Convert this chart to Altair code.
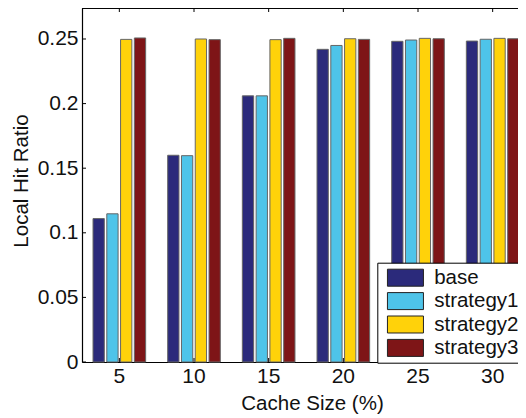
import altair as alt
import pandas as pd

sizes = ["5", "10", "15", "20", "25", "30"]
series = ["base", "strategy1", "strategy2", "strategy3"]
base = [0.111, 0.160, 0.206, 0.242, 0.2482, 0.2484]
strategy1 = [0.1147, 0.1597, 0.206, 0.245, 0.2492, 0.2498]
strategy2 = [0.2497, 0.2500, 0.2495, 0.2502, 0.2505, 0.2505]
strategy3 = [0.2508, 0.2495, 0.2505, 0.2497, 0.2502, 0.2502]
yticks = [0, 0.05, 0.1, 0.15, 0.2, 0.25]
colors = ["#2B2A7B", "#4EC4E9", "#FFD20A", "#7E1517"]

rows = []
for name, vals in zip(series, [base, strategy1, strategy2, strategy3]):
    for s, v in zip(sizes, vals):
        rows.append({"size": s, "series": name, "value": v})
df = pd.DataFrame(rows)

W = 436
H = 354
FONT = "Liberation Sans"
TXT = "#111111"
NB = "\u00a0" * 10

xscale = alt.Scale(domain=sizes, range=[0, 448], paddingInner=0, paddingOuter=0)
yscale = alt.Scale(domain=[0, 0.27399], nice=False, zero=True)

bars = alt.Chart(df).mark_bar(stroke="#666666", strokeWidth=1).encode(
    x=alt.X("size:N", scale=xscale, sort=sizes,
            axis=alt.Axis(title="Cache Size (%)", labelAngle=0, tickSize=0, labelPadding=3,
                          domainColor="black", domainWidth=1.2, grid=False,
                          labelFontSize=21, labelColor=TXT, labelFont=FONT,
                          titleFontSize=20.5, titleColor=TXT, titleFont=FONT, titleFontWeight="normal",
                          titleX=230, titleY=47, titleBaseline="alphabetic", titleAlign="center")),
    xOffset=alt.XOffset("series:N", sort=series, scale=alt.Scale(paddingInner=0.18, paddingOuter=0.8)),
    y=alt.Y("value:Q", scale=yscale,
            axis=alt.Axis(title="Local Hit Ratio", values=yticks, format="~g", tickSize=0, labelPadding=4,
                          grid=False, domainColor="black", domainWidth=1.2,
                          labelFontSize=21, labelColor=TXT, labelFont=FONT,
                          titleFontSize=20.5, titleColor=TXT, titleFont=FONT, titleFontWeight="normal",
                          titleX=-55, titleY=172.5, titleBaseline="alphabetic")),
    color=alt.Color("series:N", scale=alt.Scale(domain=series, range=colors),
                    legend=alt.Legend(title=None, orient="none", legendX=295.3, legendY=254.7,
                                      symbolType="M-1.756,-0.829H1.756V0.829H-1.756Z", symbolSize=420.25,
                                      symbolStrokeColor="#222222", symbolStrokeWidth=1, symbolOpacity=1,
                                      symbolOffset=13.15,
                                      labelFontSize=20.5, labelFont=FONT, labelColor=TXT, labelOffset=17.75,
                                      rowPadding=1.4, padding=4, strokeColor="black", fillColor="white",
                                      labelExpr="datum.label + '" + NB + "'")),
)

ytick_df = pd.DataFrame({"v": yticks})
ytk = alt.Chart(ytick_df).mark_rule(color="black", strokeWidth=1).encode(
    y=alt.Y("v:Q", scale=yscale), x=alt.value(0), x2=alt.value(4))

xt_df = pd.DataFrame({"size": sizes})
xtop = alt.Chart(xt_df).mark_rule(color="black", strokeWidth=1).encode(
    x=alt.X("size:N", scale=xscale, sort=sizes, bandPosition=0.5), y=alt.value(0), y2=alt.value(4))
xbot = alt.Chart(xt_df).mark_rule(color="black", strokeWidth=1).encode(
    x=alt.X("size:N", scale=xscale, sort=sizes, bandPosition=0.5), y=alt.value(H), y2=alt.value(H - 4))
topline = alt.Chart(xt_df).mark_rule(color="black", strokeWidth=1.2).encode(
    y=alt.value(0), x=alt.value(0), x2=alt.value(W + 20))

chart = alt.layer(bars, ytk, xtop, xbot, topline).properties(
    width=W, height=H,
    autosize=alt.AutoSizeParams(type="none"),
    padding={"left": 74, "top": 0, "right": 0, "bottom": 56},
).configure(font=FONT).configure_view(stroke=None)

chart.save("out.html", embed_options={"renderer": "svg", "actions": False})
